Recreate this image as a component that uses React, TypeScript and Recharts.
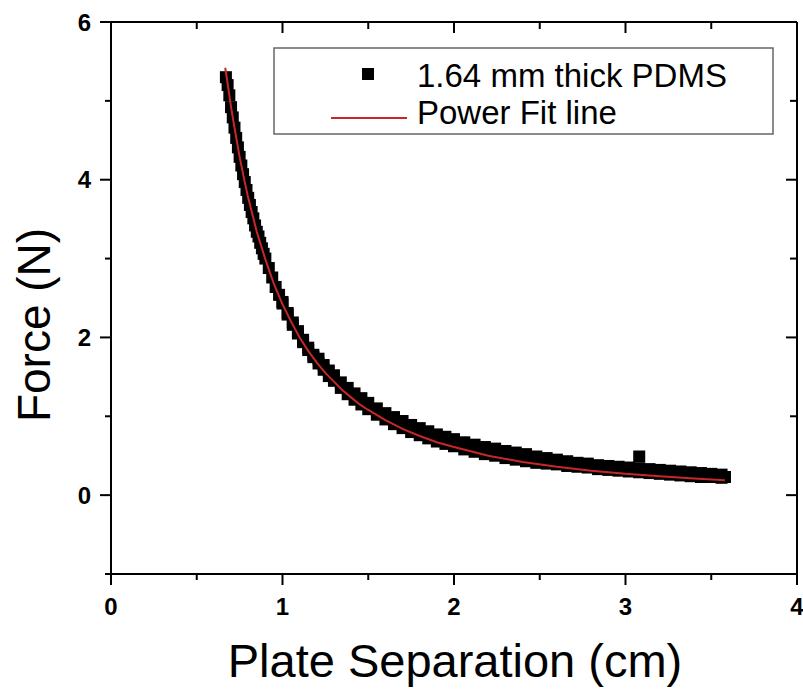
import { ScatterChart, Scatter, XAxis, YAxis } from "recharts";

// measured force vs plate separation (1.64 mm PDMS), upper edge of the trace
const separation = [
  0.67, 0.68, 0.69, 0.7, 0.71, 0.72, 0.73, 0.74, 0.75, 0.76, 0.77, 0.78, 0.79,
  0.8, 0.81, 0.82, 0.83, 0.84, 0.85, 0.86, 0.87, 0.88, 0.89, 0.9, 0.92, 0.94,
  0.96, 0.98, 1.0, 1.03, 1.06, 1.09, 1.12, 1.15, 1.18, 1.21, 1.24, 1.27, 1.3,
  1.34, 1.38, 1.42, 1.46, 1.5, 1.55, 1.6, 1.65, 1.7, 1.75, 1.8, 1.85, 1.9,
  1.95, 2.0, 2.06, 2.12, 2.18, 2.24, 2.3, 2.36, 2.42, 2.48, 2.54, 2.6, 2.66,
  2.72, 2.78, 2.84, 2.9, 2.96, 3.02, 3.08, 3.08, 3.14, 3.2, 3.26, 3.32, 3.38,
  3.44, 3.5, 3.56, 3.58,
];
const force = [
  5.3, 5.2, 5.07, 4.92, 4.79, 4.66, 4.53, 4.41, 4.29, 4.18, 4.07, 3.97, 3.87,
  3.77, 3.68, 3.59, 3.51, 3.42, 3.34, 3.28, 3.2, 3.13, 3.06, 3.0, 2.88, 2.76,
  2.64, 2.54, 2.45, 2.31, 2.19, 2.08, 1.97, 1.87, 1.78, 1.73, 1.65, 1.58, 1.52,
  1.43, 1.36, 1.29, 1.23, 1.17, 1.1, 1.04, 0.99, 0.94, 0.89, 0.85, 0.81, 0.77,
  0.74, 0.71, 0.67, 0.64, 0.61, 0.59, 0.56, 0.54, 0.52, 0.49, 0.47, 0.45, 0.43,
  0.41, 0.4, 0.38, 0.37, 0.36, 0.35, 0.34, 0.49, 0.33, 0.32, 0.31, 0.3, 0.29,
  0.28, 0.27, 0.26, 0.23,
];

// lower edge of the trace
const separationLower = [
  1.0, 1.03, 1.06, 1.09, 1.12, 1.15, 1.18, 1.21, 1.24, 1.27, 1.3, 1.34, 1.38,
  1.42, 1.46, 1.5, 1.55, 1.6, 1.65, 1.7, 1.75, 1.8, 1.85, 1.9, 1.95, 2.0, 2.06,
  2.12, 2.18, 2.24, 2.3, 2.36, 2.42, 2.48, 2.54, 2.6, 2.66, 2.72, 2.78, 2.84,
  2.9, 2.96, 3.02, 3.08, 3.14, 3.2, 3.26, 3.32, 3.38, 3.44, 3.5, 3.56,
];
const forceLower = [
  2.43, 2.29, 2.16, 2.05, 1.94, 1.84, 1.75, 1.67, 1.59, 1.51, 1.45, 1.36, 1.28,
  1.21, 1.15, 1.09, 1.02, 0.96, 0.9, 0.85, 0.8, 0.76, 0.72, 0.68, 0.65, 0.62,
  0.58, 0.55, 0.52, 0.5, 0.47, 0.45, 0.43, 0.41, 0.4, 0.39, 0.37, 0.36, 0.35,
  0.33, 0.32, 0.31, 0.3, 0.29, 0.28, 0.27, 0.26, 0.25, 0.24, 0.23, 0.23, 0.22,
];

// power-law fit
const fitSeparation = [
  0.666, 0.68, 0.7, 0.72, 0.75, 0.78, 0.8, 0.85, 0.9, 0.95, 1.0, 1.05, 1.1,
  1.15, 1.2, 1.25, 1.3, 1.35, 1.4, 1.45, 1.5, 1.6, 1.7, 1.8, 1.9, 2.0, 2.2,
  2.4, 2.6, 2.8, 3.0, 3.2, 3.4, 3.58,
];
const fitForce = [
  5.42, 5.22, 4.92, 4.66, 4.29, 3.97, 3.77, 3.34, 2.99, 2.68, 2.42, 2.2, 2.0,
  1.83, 1.68, 1.55, 1.44, 1.33, 1.24, 1.15, 1.08, 0.95, 0.84, 0.75, 0.67, 0.61,
  0.5, 0.42, 0.36, 0.31, 0.27, 0.24, 0.21, 0.19,
];

const xTicks = [0, 0.5, 1, 1.5, 2, 2.5, 3, 3.5, 4];
const yTicks = [-1, 0, 1, 2, 3, 4, 5, 6];

const measured = [
  ...separation.map((x, i) => ({ x, y: force[i] })),
  ...separationLower.map((x, i) => ({ x, y: forceLower[i] })),
];
const fitted = fitSeparation.map((x, i) => ({ x, y: fitForce[i] }));

const FONT = '"Liberation Sans", Arial, sans-serif';
const RED = "#c62828";
const tickText = { fontFamily: FONT, fontSize: 24, fontWeight: 700, fill: "#000" };

function BottomTick({ x, y, payload }: any) {
  const major = Number.isInteger(payload.value);
  return (
    <g>
      <line x1={x} x2={x} y1={y} y2={y + (major ? 11 : 6)} stroke="#000" strokeWidth={2} />
      {major && (
        <text x={x} y={y + 41} textAnchor="middle" style={tickText}>
          {payload.value}
        </text>
      )}
    </g>
  );
}

function TopTick({ x, y, payload }: any) {
  const major = Number.isInteger(payload.value);
  return <line x1={x} x2={x} y1={y} y2={y + (major ? 11 : 7)} stroke="#000" strokeWidth={2} />;
}

function LeftTick({ x, y, payload }: any) {
  const major = payload.value % 2 === 0;
  return (
    <g>
      <line x1={x - (major ? 11 : 6)} x2={x} y1={y} y2={y} stroke="#000" strokeWidth={2} />
      {major && (
        <text x={x - 20} y={y} textAnchor="end" dominantBaseline="central" style={tickText}>
          {payload.value}
        </text>
      )}
    </g>
  );
}

function RightTick({ x, y, payload }: any) {
  const major = payload.value % 2 === 0;
  return <line x1={x - (major ? 11 : 7)} x2={x} y1={y} y2={y} stroke="#000" strokeWidth={2} />;
}

const Square = ({ cx, cy }: any) => (
  <rect x={cx - 6} y={cy - 6} width={12} height={12} fill="#000" />
);
const NoMarker = () => <g />;

const axisLine = { stroke: "#000", strokeWidth: 2 };

export default function App() {
  return (
    <div style={{ position: "absolute", left: 0, top: 0, width: 803, height: 693, background: "#fff" }}>
      <ScatterChart
        width={803}
        height={693}
        margin={{ top: 21, right: 5, bottom: 118, left: 110 }}
      >
        <XAxis
          xAxisId="bottom"
          dataKey="x"
          type="number"
          domain={[0, 4]}
          ticks={xTicks}
          interval={0}
          height={1}
          tickSize={0}
          tickMargin={0}
          axisLine={axisLine}
          tickLine={false}
          tick={<BottomTick />}
        />
        <XAxis
          xAxisId="top"
          orientation="top"
          dataKey="x"
          type="number"
          domain={[0, 4]}
          ticks={xTicks}
          interval={0}
          height={1}
          tickSize={0}
          tickMargin={0}
          axisLine={axisLine}
          tickLine={false}
          tick={<TopTick />}
        />
        <YAxis
          yAxisId="left"
          dataKey="y"
          type="number"
          domain={[-1, 6]}
          ticks={yTicks}
          interval={0}
          width={1}
          tickSize={0}
          tickMargin={0}
          axisLine={axisLine}
          tickLine={false}
          tick={<LeftTick />}
        />
        <YAxis
          yAxisId="right"
          orientation="right"
          dataKey="y"
          type="number"
          domain={[-1, 6]}
          ticks={yTicks}
          interval={0}
          width={1}
          tickSize={0}
          tickMargin={0}
          axisLine={axisLine}
          tickLine={false}
          tick={<RightTick />}
        />
        <Scatter
          name="1.64 mm thick PDMS"
          xAxisId="bottom"
          yAxisId="left"
          data={measured}
          shape={Square}
          isAnimationActive={false}
        />
        <Scatter
          name="Power Fit line"
          xAxisId="top"
          yAxisId="right"
          data={fitted}
          line={{ stroke: RED, strokeWidth: 2 }}
          lineType="joint"
          shape={NoMarker}
          isAnimationActive={false}
        />
      </ScatterChart>

      {/* legend and axis titles */}
      <svg
        width={803}
        height={693}
        style={{ position: "absolute", left: 0, top: 0, pointerEvents: "none" }}
      >
        <rect x={274} y={48} width={499} height={86} fill="#fff" stroke="#666" strokeWidth={1.5} />
        <rect x={362} y={68} width={12} height={12} fill="#000" />
        <text x={417} y={87} style={{ fontFamily: FONT, fontSize: 33, fill: "#000" }}>
          1.64 mm thick PDMS
        </text>
        <line x1={331} x2={407} y1={118} y2={118} stroke={RED} strokeWidth={2} />
        <text x={417} y={124} style={{ fontFamily: FONT, fontSize: 33, fill: "#000" }}>
          Power Fit line
        </text>
        <text
          x={455}
          y={677}
          textAnchor="middle"
          style={{ fontFamily: FONT, fontSize: 47, fill: "#000" }}
        >
          Plate Separation (cm)
        </text>
        <text
          transform="translate(50, 325) rotate(-90)"
          textAnchor="middle"
          style={{ fontFamily: FONT, fontSize: 46, fill: "#000" }}
        >
          Force (N)
        </text>
      </svg>
    </div>
  );
}
